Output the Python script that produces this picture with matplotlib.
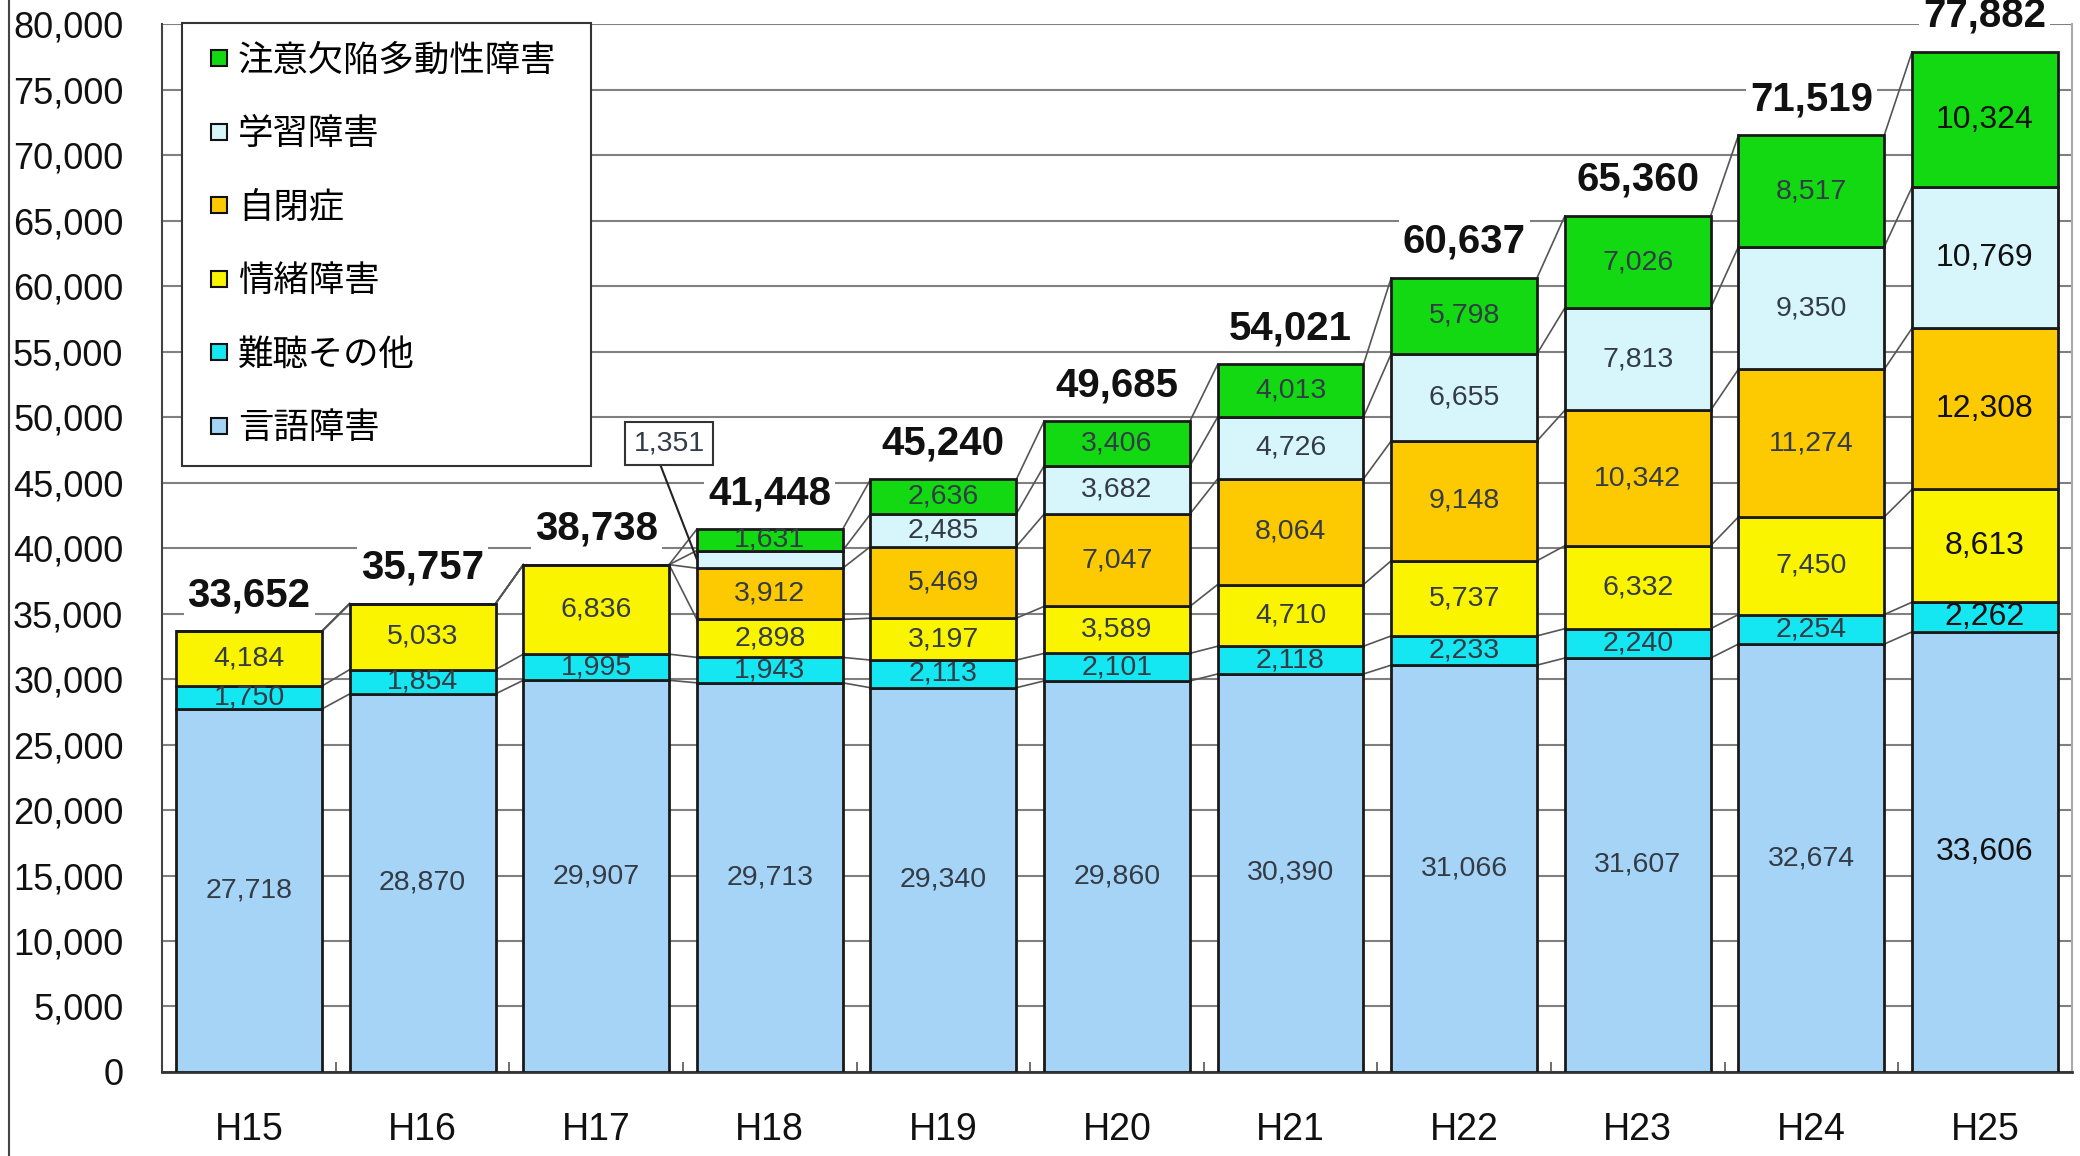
# 通級による指導を受けている児童生徒数の推移（障害種別）

import matplotlib
matplotlib.use('Agg')
import matplotlib.pyplot as plt
from matplotlib import font_manager
from matplotlib.lines import Line2D
import numpy as np

# data
years = ['H15', 'H16', 'H17', 'H18', 'H19', 'H20', 'H21', 'H22', 'H23', 'H24', 'H25']

gengo = [27718, 28870, 29907, 29713, 29340, 29860, 30390, 31066, 31607, 32674, 33606]
nancho = [1750, 1854, 1995, 1943, 2113, 2101, 2118, 2233, 2240, 2254, 2262]
jocho = [4184, 5033, 6836, 2898, 3197, 3589, 4710, 5737, 6332, 7450, 8613]
jihei = [0, 0, 0, 3912, 5469, 7047, 8064, 9148, 10342, 11274, 12308]
gakushu = [0, 0, 0, 1351, 2485, 3682, 4726, 6655, 7813, 9350, 10769]
adhd = [0, 0, 0, 1631, 2636, 3406, 4013, 5798, 7026, 8517, 10324]

totals = [33652, 35757, 38738, 41448, 45240, 49685, 54021, 60637, 65360, 71519, 77882]

series_names = ['言語障害', '難聴その他', '情緒障害', '自閉症', '学習障害', '注意欠陥多動性障害']
series_values = [gengo, nancho, jocho, jihei, gakushu, adhd]
colors = ['#a6d4f7', '#14e6f2', '#fbf400', '#fdc900', '#d6f6fb', '#12d912']

# fonts
names = {f.name for f in font_manager.fontManager.ttflist}
if 'Liberation Sans Narrow' in names:
    NUM_FONT = 'Liberation Sans Narrow'
    k = 1.2
else:
    NUM_FONT = 'Liberation Sans'
    k = 1.0
JP_FONT = ['Noto Sans CJK JP', 'DejaVu Sans']

fig = plt.figure(figsize=(20.8, 11.56), dpi=100)
ax = fig.add_axes([0.078, 0.0727, 0.918, 0.9063])

x = np.arange(len(years))
width = 0.84
bottom = np.zeros(len(years))
tops = []
for name, vals, c in zip(series_names, series_values, colors):
    vals = np.array(vals)
    ax.bar(x, vals, width, bottom=bottom, color=c, edgecolor='#1a1a1a',
           linewidth=2, zorder=3, label=name)
    for i, v in enumerate(vals):
        if v == 0:
            continue
        if name == '学習障害' and i == 3:
            continue
        big = (i == len(years) - 1)
        ax.text(x[i], bottom[i] + v / 2, f'{v:,}', ha='center', va='center',
                fontsize=(23 if big else 20.5) * k, family=NUM_FONT,
                color='#111111' if big else '#333b45', zorder=5)
    bottom = bottom + vals
    tops.append(bottom.copy())

# series lines
for t in tops:
    for i in range(len(years) - 1):
        ax.plot([x[i] + width / 2, x[i + 1] - width / 2], [t[i], t[i + 1]],
                color='#555555', linewidth=1.2, zorder=2)

# callout for the small 学習障害 segment in H18
ax.annotate(f'{gakushu[3]:,}', xy=(x[3] - width / 2, tops[3][3] + gakushu[3] / 2),
            xytext=(2.42, 48000), ha='center', va='center',
            fontsize=20.5 * k, family=NUM_FONT, color='#333b45',
            bbox=dict(boxstyle='square,pad=0.3', fc='white', ec='#333333', lw=1.5),
            arrowprops=dict(arrowstyle='-', color='#222222', lw=1.5,
                            relpos=(0.33, 0), shrinkA=0, shrinkB=0),
            zorder=6)

# totals
for i, tot in enumerate(totals):
    ax.annotate(f'{tot:,}', xy=(x[i], tot), xytext=(0, 26), textcoords='offset points',
                ha='center', va='center', fontsize=29 * k, fontweight='bold',
                family=NUM_FONT, color='#111111', zorder=6, annotation_clip=False,
                bbox=dict(boxstyle='square,pad=0.1', fc='white', ec='none'))

ax.set_xlim(-0.5, len(years) - 0.5)
ax.set_ylim(0, 80000)
ax.set_yticks(np.arange(0, 80001, 5000))
ax.set_yticklabels([f'{v:,}' for v in range(0, 80001, 5000)])
ax.set_xticks(x)
ax.set_xticklabels(years)
ax.set_xticks(x[:-1] + 0.5, minor=True)

for lab in ax.get_yticklabels():
    lab.set_family(NUM_FONT)
    lab.set_fontsize(26 * k)
    lab.set_color('#111111')
for lab in ax.get_xticklabels():
    lab.set_family(NUM_FONT)
    lab.set_fontsize(27 * k)
    lab.set_color('#111111')

ax.tick_params(axis='x', which='major', length=0, pad=29)
ax.tick_params(axis='x', which='minor', direction='in', length=7, width=1.2, color='#555555')
ax.tick_params(axis='y', length=0, pad=28)

ax.yaxis.grid(True, color='#808080', linewidth=1.5, zorder=0)
ax.set_axisbelow(True)

ax.spines['top'].set_visible(False)
ax.spines['right'].set_color('#aaaaaa')
ax.spines['right'].set_linewidth(1.5)
ax.spines['left'].set_color('#444444')
ax.spines['left'].set_linewidth(1.5)
ax.spines['bottom'].set_color('#333333')
ax.spines['bottom'].set_linewidth(2)

# legend (top series first)
handles = [Line2D([], [], linestyle='none', marker='s', markersize=11.5,
                  markerfacecolor=c, markeredgecolor='#111111', markeredgewidth=1.5)
           for c in colors[::-1]]
leg = ax.legend(handles, series_names[::-1], loc='upper left',
                bbox_to_anchor=(0.0105, 0.585, 0.2141, 0.416), mode='expand',
                borderaxespad=0, prop={'family': JP_FONT, 'size': 25.5},
                handlelength=0.97, handletextpad=0.05,
                labelspacing=1.06, borderpad=0.55, fancybox=False,
                framealpha=1, edgecolor='#333333')
leg.get_frame().set_linewidth(1.5)
leg.set_zorder(7)

# outer frame line on the left
fig.add_artist(Line2D([0.0045, 0.0045], [0.0, 1.0], transform=fig.transFigure,
                      color='#444444', linewidth=1.5))

fig.savefig('out.png', dpi=100)
